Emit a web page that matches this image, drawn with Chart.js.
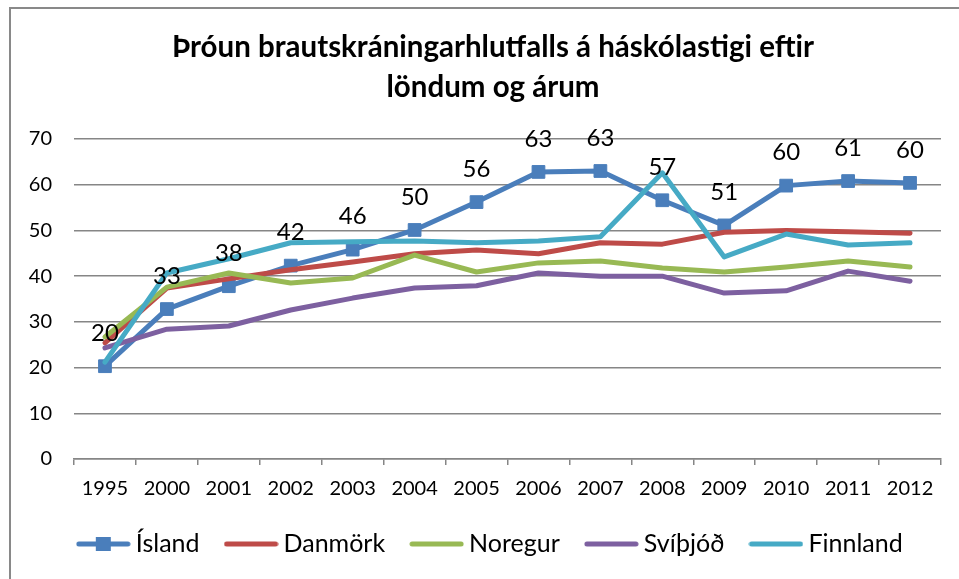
<!DOCTYPE html>
<html><head><meta charset="utf-8">
<script src="https://cdn.jsdelivr.net/npm/chart.js@4"></script>
<style>
html,body{margin:0;padding:0;background:#fff;}
#wrap{position:relative;width:959px;height:579px;overflow:hidden;background:#fff;}
#frame{position:absolute;left:9px;top:7px;width:1000px;height:700px;border:2px solid #898989;box-sizing:border-box;pointer-events:none;}
canvas{position:absolute;left:0;top:0;}
</style></head><body>
<div id="wrap"><canvas id="c" width="959" height="579"></canvas><div id="frame"></div></div>
<script>
const years = ['1995','2000','2001','2002','2003','2004','2005','2006','2007','2008','2009','2010','2011','2012'];
const island   = [20.3, 32.8, 37.8, 42.3, 45.8, 50.1, 56.2, 62.8, 63.0, 56.6, 51.1, 59.8, 60.8, 60.4];
const danmork  = [25.4, 37.4, 39.4, 41.4, 43.1, 44.9, 45.7, 44.9, 47.3, 47.0, 49.6, 50.0, 49.7, 49.4];
const noregur  = [26.7, 37.6, 40.7, 38.5, 39.6, 44.6, 40.9, 42.9, 43.3, 41.8, 40.9, 42.0, 43.3, 42.0];
const svithjod = [24.3, 28.4, 29.1, 32.6, 35.2, 37.4, 37.9, 40.7, 40.0, 40.0, 36.3, 36.8, 41.1, 38.9];
const finnland = [21.2, 40.7, 43.8, 47.3, 47.5, 47.7, 47.3, 47.7, 48.6, 62.6, 44.2, 49.2, 46.8, 47.3];
const seriesNames = ['Ísland','Danmörk','Noregur','Svíþjóð','Finnland'];
const titleLines = ['Þróun brautskráningarhlutfalls á háskólastigi eftir','löndum og árum'];

const FONT = 'Lato, "Open Sans", sans-serif';
const colors = ['#4A7EBB','#BE4B48','#98B954','#7D60A0','#46AAC5'];

function legendIcon(color, marker){
  const c = document.createElement('canvas');
  c.width = 55; c.height = 18;
  const g = c.getContext('2d');
  g.strokeStyle = color; g.lineWidth = 5; g.lineCap = 'round';
  g.beginPath(); g.moveTo(3,9); g.lineTo(52,9); g.stroke();
  if (marker){ g.fillStyle = color; g.fillRect(20,2,15,14); }
  return c;
}
const icons = colors.map((c,i)=>legendIcon(c, i===0));

const seriesData = [island, danmork, noregur, svithjod, finnland];
const datasets = seriesData.map((d,i)=>({
  label: seriesNames[i],
  data: d,
  yAxisID: 'y',
  borderColor: colors[i],
  backgroundColor: colors[i],
  borderWidth: 5,
  borderCapStyle: 'round',
  borderJoinStyle: 'round',
  tension: 0,
  pointStyle: 'rect',
  pointRadius: i===0 ? 9 : 0,
  pointHoverRadius: i===0 ? 9 : 0,
  pointBorderWidth: 1,
  pointBackgroundColor: colors[i],
  pointBorderColor: colors[i],
  order: 5 - i
}));

const valueLabels = {
  id: 'valueLabels',
  afterDatasetsDraw(chart){
    const meta = chart.getDatasetMeta(0);
    const ctx = chart.ctx;
    ctx.save();
    ctx.font = '24px ' + FONT;
    ctx.fillStyle = '#000';
    ctx.textAlign = 'center';
    ctx.textBaseline = 'middle';
    meta.data.forEach((pt,i)=>{
      ctx.fillText(String(Math.round(island[i])), pt.x, pt.y - 33);
    });
    ctx.restore();
  }
};

new Chart(document.getElementById('c'), {
  type: 'line',
  data: { labels: years, datasets },
  plugins: [valueLabels],
  options: {
    responsive: false,
    animation: false,
    devicePixelRatio: 1,
    layout: { padding: { left: 27, right: 0, top: 0, bottom: 12.5 } },
    plugins: {
      tooltip: { enabled: false },
      title: {
        display: true,
        text: titleLines,
        color: '#000',
        font: { family: FONT, size: 29.5, weight: 'bold', lineHeight: 40/29.5 },
        padding: { top: 27, bottom: 32 }
      },
      legend: {
        position: 'bottom',
        labels: {
          color: '#000',
          font: { family: FONT, size: 25 },
          usePointStyle: true,
          pointStyleWidth: 40,
          padding: 31.5,
          generateLabels(chart){
            return chart.data.datasets.map((ds,i)=>({
              text: ds.label, pointStyle: icons[i], datasetIndex: i,
              fillStyle: ds.borderColor, strokeStyle: ds.borderColor,
              lineWidth: 0, hidden: false, fontColor: '#000'
            }));
          }
        }
      }
    },
    scales: {
      x: {
        offset: true,
        grid: { offset: true, display: true, drawOnChartArea: false, drawTicks: true, tickLength: 6, color: '#868686', lineWidth: 1.5 },
        border: { display: true, color: '#868686', width: 1.5 },
        ticks: { color: '#000', font: { family: FONT, size: 20 }, padding: 12, maxRotation: 0, autoSkip: false },
        afterFit(s){ s.height = 41; }
      },
      y: {
        min: 0, max: 70,
        ticks: { stepSize: 10, color: '#000', font: { family: FONT, size: 20 }, padding: 22 },
        grid: { color: '#868686', lineWidth: 1.5, drawTicks: false },
        border: { display: false },
        afterFit(s){ s.width = 47; }
      },
      yRight: {
        position: 'right',
        display: true,
        min: 0, max: 1,
        ticks: { display: false },
        grid: { display: false, drawTicks: false },
        border: { display: false },
        afterFit(s){ s.width = 18; }
      }
    }
  }
});
</script>
</body></html>
